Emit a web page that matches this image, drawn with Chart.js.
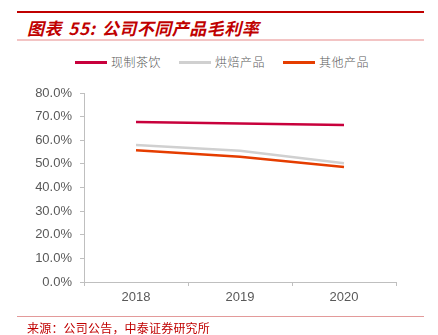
<!DOCTYPE html>
<html>
<head>
<meta charset="utf-8">
<script src="https://cdn.jsdelivr.net/npm/chart.js@4/dist/chart.umd.min.js"></script>
<style>
  html, body { margin: 0; padding: 0; background: #fff; }
  #wrap { position: relative; width: 438px; height: 335px; overflow: hidden; }
  #topline { position: absolute; left: 17px; width: 407px; top: 11px; height: 2px; background: #c00000; }
  #title { position: absolute; left: 27px; top: 18px; font-family: "Noto Sans CJK SC", sans-serif; font-size: 17px; font-weight: bold; font-style: italic; color: #c00000; white-space: nowrap; line-height: 20px; letter-spacing: 0.5px; word-spacing: 2px; }
  #subline { position: absolute; left: 17px; width: 407px; top: 39px; height: 2px; background: #f3c4c4; }
  #legend { position: absolute; top: 53px; left: 0; width: 438px; height: 18px; font-family: "Noto Sans CJK SC", sans-serif; font-weight: 300; font-size: 12px; color: #595959; }
  .li { position: absolute; top: 0; line-height: 18px; white-space: nowrap; letter-spacing: 0.5px; }
  .sw { position: absolute; top: 8px; width: 32px; height: 3px; }
  #footline { position: absolute; left: 17px; width: 407px; top: 316px; height: 1px; background: #e39a9a; }
  #source { position: absolute; left: 27px; top: 320px; font-family: "Noto Sans CJK SC", sans-serif; font-size: 12px; color: #c00000; white-space: nowrap; line-height: 16px; letter-spacing: 0.2px; }
  #cv { position: absolute; left: 0; top: 0; }
</style>
</head>
<body>
<div id="wrap">
  <div id="topline"></div>
  <div id="title">图表 55: 公司不同产品毛利率</div>
  <div id="subline"></div>
  <div id="legend"></div>
  <canvas id="cv" width="438" height="335"></canvas>
  <div id="footline"></div>
  <div id="source">来源：公司公告，中泰证券研究所</div>
</div>
<script>
const categories = ["2018", "2019", "2020"];
const seriesNames = ["现制茶饮", "烘焙产品", "其他产品"];
const teaDrinks = [67.7, 67.1, 66.5];
const bakery = [58.0, 55.6, 50.3];
const others = [55.8, 53.0, 48.7];
const yTicks = [0, 10, 20, 30, 40, 50, 60, 70, 80];
const colors = ["#c8003c", "#d0d0d0", "#e53d00"];

// legend (HTML)
const legendPos = [75, 179, 283];
const legend = document.getElementById('legend');
seriesNames.forEach((n, i) => {
  const sw = document.createElement('div');
  sw.className = 'sw';
  sw.style.left = legendPos[i] + 'px';
  sw.style.background = colors[i];
  legend.appendChild(sw);
  const t = document.createElement('div');
  t.className = 'li';
  t.style.left = (legendPos[i] + 36) + 'px';
  t.textContent = n;
  legend.appendChild(t);
});

const axisColor = '#bfbfbf';
const tickFont = { family: '"Liberation Sans", Arial, sans-serif', size: 13 };
new Chart(document.getElementById('cv'), {
  type: 'line',
  data: {
    labels: categories,
    datasets: [
      { label: seriesNames[0], data: teaDrinks, borderColor: colors[0], backgroundColor: colors[0], borderWidth: 2.5, pointRadius: 0, tension: 0 },
      { label: seriesNames[1], data: bakery, borderColor: colors[1], backgroundColor: colors[1], borderWidth: 2.5, pointRadius: 0, tension: 0 },
      { label: seriesNames[2], data: others, borderColor: colors[2], backgroundColor: colors[2], borderWidth: 2.5, pointRadius: 0, tension: 0 }
    ]
  },
  options: {
    responsive: false,
    animation: false,
    devicePixelRatio: 1,
    layout: { padding: { top: 93, right: 42, bottom: 23, left: 0 } },
    plugins: { legend: { display: false }, tooltip: { enabled: false } },
    scales: {
      x: {
        offset: true,
        afterFit: s => { s.height = 30; },
        grid: { display: true, drawOnChartArea: false, drawTicks: true, tickLength: 4, color: axisColor, offset: true },
        border: { display: true, color: axisColor, width: 1 },
        ticks: { color: '#595959', font: tickFont, padding: 4 }
      },
      y: {
        min: 0, max: 80,
        afterFit: s => { s.width = 84; },
        afterBuildTicks: s => { s.ticks = yTicks.map(v => ({ value: v })); },
        grid: { display: true, drawOnChartArea: false, drawTicks: true, tickLength: 4, color: axisColor },
        border: { display: true, color: axisColor, width: 1 },
        ticks: { color: '#595959', font: tickFont, padding: 8, callback: v => Number(v).toFixed(1) + '%' }
      }
    }
  }
});
</script>
</body>
</html>
